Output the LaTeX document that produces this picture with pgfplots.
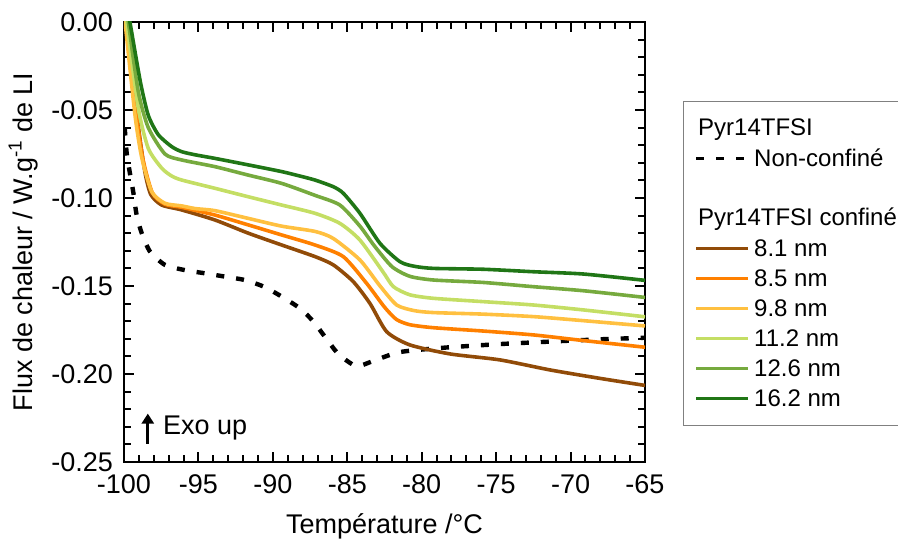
\documentclass[border=0pt]{standalone}
\usepackage{pgfplots}
\pgfplotsset{compat=1.18}
\usepackage{fontspec}
\setmainfont{Liberation Sans}
\usetikzlibrary{arrows.meta}
\definecolor{c81}{RGB}{145,75,8}
\definecolor{c85}{RGB}{255,128,0}
\definecolor{c98}{RGB}{255,192,64}
\definecolor{c112}{RGB}{196,222,100}
\definecolor{c126}{RGB}{118,170,62}
\definecolor{c162}{RGB}{32,118,22}
\newcommand\ls{\rule[-1.5pt]{0pt}{11.2pt}}
\begin{document}
\begin{tikzpicture}
\begin{axis}[
  name=ax,
  width=260.5pt, height=220pt, scale only axis,
  xmin=-100, xmax=-65, ymin=-0.25, ymax=0,
  axis line style={line width=1.4pt},
  xtick={-100,-95,...,-65},
  xticklabels={-100,-95,-90,-85,-80,-75,-70,-65},
  ytick={-0.25,-0.2,-0.15,-0.1,-0.05,0},
  yticklabels={-0.25,-0.20,-0.15,-0.10,-0.05,0.00},
  minor x tick num=4, minor y tick num=4,
  tick align=inside, tick pos=both,
  major tick length=5pt, minor tick length=3.5pt,
  every tick/.style={black, line width=1pt},
  tick label style={font=\fontsize{13.5}{15}\selectfont},
  xticklabel style={yshift=-3pt},
  yticklabel style={xshift=-2pt},
  label style={font=\fontsize{13.5}{15}\selectfont},
  xlabel={Température /°C},
  xlabel style={yshift=-3pt},
  ylabel={Flux de chaleur / W.g\textsuperscript{-1} de LI},
  clip=true,
  legend cell align=left,
  legend style={at={(1.0729,0.8205)}, anchor=north west, draw=gray, line width=0.6pt,
    font=\fontsize{12}{14}\selectfont, row sep=-0.2pt, inner xsep=5.5pt, inner ysep=5.8pt},
  legend image code/.code={\draw[#1, line width=1.8pt] (0pt,0pt) -- (26pt,0pt);},
  every axis plot/.append style={line width=1.8pt, smooth, tension=0.4},
]
\addlegendimage{legend image code/.code={\node[anchor=west, overlay, inner sep=0pt] at (0pt,0pt) {Pyr14TFSI};}}
\addlegendentry{\ls}
\addplot[black, line width=2.2pt, dash pattern=on 4pt off 6pt] coordinates {
(-99.95,-0.06) (-99.82,-0.0745) (-99.6,-0.086) (-99.37,-0.097) (-99.15,-0.1097)
(-98.81,-0.120) (-98.25,-0.1305) (-97.25,-0.138) (-95.9,-0.141) (-94.56,-0.1428)
(-93.2,-0.1447) (-91.9,-0.1466) (-90.6,-0.1504) (-89.41,-0.156) (-88.18,-0.1627)
(-87.3,-0.170) (-86.4,-0.180) (-85.6,-0.1886) (-84.4,-0.1955) (-83.2,-0.1924)
(-81.68,-0.1879) (-80.35,-0.1864) (-78.1,-0.1848) (-74.74,-0.183) (-71.38,-0.1816)
(-68.02,-0.1803) (-65,-0.1794)};
\addlegendentry{\ls Non-confiné\hspace{14pt}}
\addlegendimage{empty legend}
\addlegendentry{\ls}
\addlegendimage{legend image code/.code={\node[anchor=west, overlay, inner sep=0pt] at (0pt,0pt) {Pyr14TFSI confiné};}}
\addlegendentry{\ls}
\addplot[c81] coordinates {
(-100,0.01) (-99.8,0) (-99.1,-0.055) (-98.6,-0.085) (-98.2,-0.098) (-97.47,-0.104)
(-96.12,-0.1068) (-93.89,-0.1125) (-91.65,-0.120) (-89.41,-0.1267) (-87.17,-0.1333)
(-85.94,-0.138) (-84.6,-0.1475) (-83.47,-0.160) (-82.35,-0.176) (-80.79,-0.1835)
(-78.1,-0.1886) (-74.74,-0.192) (-71.38,-0.1977) (-68.02,-0.2025) (-65,-0.2065)};
\addlegendentry{\ls 8.1 nm}
\addplot[c85] coordinates {
(-100,0.01) (-99.85,0) (-99.2,-0.05) (-98.75,-0.077) (-98.1,-0.097) (-97.25,-0.1035)
(-96.12,-0.1053) (-93.89,-0.1097) (-91.65,-0.1153) (-89.41,-0.121) (-87.17,-0.1267)
(-85.27,-0.1333) (-83.7,-0.1485) (-82.5,-0.162) (-81.7,-0.169) (-80.8,-0.172)
(-79.22,-0.1737) (-75.86,-0.1756) (-72.5,-0.1778) (-69.14,-0.181) (-65,-0.1848)};
\addlegendentry{\ls 8.5 nm}
\addplot[c98] coordinates {
(-100.1,0.01) (-99.93,0) (-99.26,-0.053) (-98.81,-0.077) (-98.14,-0.0964) (-97.25,-0.103)
(-96.12,-0.1045) (-95.23,-0.106) (-93.89,-0.1072) (-91.65,-0.1116) (-89.41,-0.116)
(-87.17,-0.119) (-85.94,-0.123) (-84.15,-0.1352) (-82.8,-0.150) (-81.68,-0.1608)
(-80.5,-0.164) (-79.22,-0.1651) (-75.86,-0.166) (-72.5,-0.1674) (-69.14,-0.1697) (-65,-0.1727)};
\addlegendentry{\ls 9.8 nm}
\addplot[c112] coordinates {
(-100,0.01) (-99.82,0) (-99.04,-0.049) (-98.37,-0.0718) (-97.47,-0.083) (-96.8,-0.0875)
(-96.12,-0.0898) (-93.89,-0.0945) (-91.65,-0.0993) (-89.41,-0.104) (-87.17,-0.1087)
(-85.5,-0.1144) (-84.15,-0.1239) (-82.6,-0.142) (-81.9,-0.1504) (-80.8,-0.155)
(-79.22,-0.157) (-75.86,-0.1589) (-72.5,-0.1608) (-69.14,-0.1636) (-65,-0.1675)};
\addlegendentry{\ls 11.2 nm}
\addplot[c126] coordinates {
(-99.9,0.01) (-99.71,0) (-99.04,-0.0396) (-98.37,-0.060) (-97.25,-0.075) (-96.12,-0.0784)
(-93.89,-0.0822) (-91.65,-0.087) (-89.41,-0.0917) (-87.17,-0.0985) (-85.5,-0.104)
(-84.15,-0.116) (-83.2,-0.127) (-82.0,-0.139) (-80.8,-0.1445) (-79.22,-0.1466)
(-75.86,-0.148) (-72.5,-0.1504) (-69.14,-0.1527) (-65,-0.1565)};
\addlegendentry{\ls 12.6 nm}
\addplot[c162] coordinates {
(-99.8,0.012) (-99.6,0) (-98.9,-0.034) (-98.37,-0.053) (-97.7,-0.064) (-96.8,-0.0708)
(-96.12,-0.0737) (-95.2,-0.0755) (-93.89,-0.0775) (-91.65,-0.0812) (-89.41,-0.085)
(-88.2,-0.0875) (-87.17,-0.0898) (-85.94,-0.0936) (-85.27,-0.0973) (-84.15,-0.1087)
(-82.8,-0.1258) (-81.46,-0.1362) (-80.5,-0.1388) (-79.22,-0.140) (-75.86,-0.1405)
(-72.5,-0.1419) (-69.14,-0.1432) (-65,-0.1468)};
\addlegendentry{\ls 16.2 nm}
\draw[-{Triangle[length=5pt,width=6pt]}, line width=1.6pt] (axis cs:-98.4,-0.2395) -- (axis cs:-98.4,-0.2225);
\node[anchor=west, inner sep=0pt, font=\fontsize{13.5}{15}\selectfont] at (axis cs:-97.4,-0.2307) {Exo up};
\end{axis}
\pgfresetboundingbox
\path[use as bounding box] ([xshift=-62pt,yshift=-40pt]ax.south west) rectangle ([xshift=126.5pt,yshift=11pt]ax.north east);
\end{tikzpicture}
\end{document}
